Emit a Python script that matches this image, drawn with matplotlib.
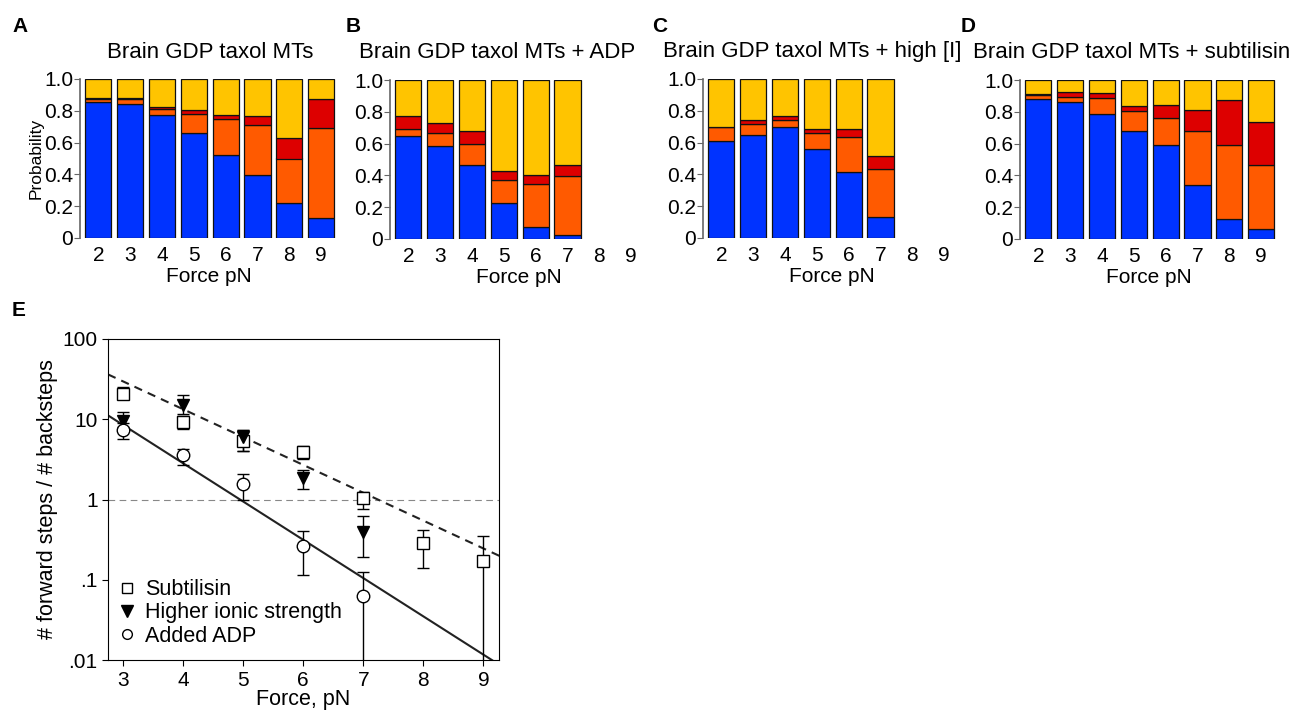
import numpy as np
import matplotlib.pyplot as plt
import matplotlib
from matplotlib.lines import Line2D

matplotlib.rcParams['font.family'] = ['Liberation Sans', 'DejaVu Sans']
matplotlib.rcParams['font.size'] = 13

# ---- data for panels A-D (probability of each step type, bottom to top) ----
forces_full = [2, 3, 4, 5, 6, 7, 8, 9]
forces_short = [2, 3, 4, 5, 6, 7]

a_blue = [0.853, 0.840, 0.771, 0.658, 0.519, 0.399, 0.221, 0.126]
a_orange = [0.021, 0.032, 0.042, 0.119, 0.227, 0.309, 0.279, 0.563]
a_red = [0.004, 0.008, 0.008, 0.026, 0.029, 0.059, 0.126, 0.187]
a_yellow = [0.122, 0.120, 0.179, 0.197, 0.225, 0.233, 0.374, 0.124]

b_blue = [0.648, 0.587, 0.467, 0.226, 0.073, 0.025]
b_orange = [0.046, 0.079, 0.128, 0.143, 0.273, 0.369]
b_red = [0.077, 0.062, 0.084, 0.057, 0.057, 0.073]
b_yellow = [0.229, 0.272, 0.321, 0.574, 0.597, 0.533]

c_blue = [0.608, 0.648, 0.696, 0.562, 0.413, 0.130]
c_orange = [0.088, 0.069, 0.046, 0.096, 0.222, 0.304]
c_red = [0.003, 0.025, 0.023, 0.028, 0.051, 0.082]
c_yellow = [0.301, 0.258, 0.235, 0.314, 0.314, 0.484]

d_blue = [0.880, 0.859, 0.789, 0.682, 0.589, 0.341, 0.124, 0.063]
d_orange = [0.023, 0.036, 0.097, 0.120, 0.175, 0.341, 0.465, 0.404]
d_red = [0.012, 0.031, 0.034, 0.034, 0.080, 0.129, 0.285, 0.268]
d_yellow = [0.085, 0.074, 0.080, 0.164, 0.156, 0.189, 0.126, 0.265]

# ---- data for panel E (ratio forward / back steps) ----
sub_force = [3, 4, 5, 6, 7, 8, 9]
sub_ratio = [20.8, 9.2, 5.3, 3.9, 1.03, 0.285, 0.17]
sub_low = [17.7, 7.5, 4.0, 3.16, 0.77, 0.14, 0.005]
sub_high = [25.4, 11.0, 7.3, 4.6, 1.23, 0.42, 0.35]

ion_force = [3, 4, 5, 6, 7]
ion_ratio = [9.5, 14.9, 6.0, 1.86, 0.395]
ion_low = [7.9, 11.5, 4.0, 1.37, 0.19]
ion_high = [12.3, 20.0, 7.3, 2.3, 0.62]

adp_force = [3, 4, 5, 6, 7]
adp_ratio = [7.3, 3.57, 1.54, 0.26, 0.062]
adp_low = [5.7, 2.7, 1.0, 0.113, 0.005]
adp_high = [9.0, 4.3, 2.05, 0.41, 0.124]

# fit lines: log10(ratio) = intercept - slope * force
fit_dashed = (2.513, 0.347)
fit_solid = (2.36, 0.477)

col_blue = '#0033ff'
col_orange = '#ff5a00'
col_red = '#dd0000'
col_yellow = '#ffc400'

W, H = 1292, 714
fig = plt.figure(figsize=(W / 100, H / 100), dpi=100)


def px_axes(left, top, right, bottom):
    return fig.add_axes([left / W, 1 - bottom / H, (right - left) / W, (bottom - top) / H])


def bar_panel(ax, forces, blue, orange, red, yellow, ylabel=False):
    bottom = np.zeros(len(forces))
    for vals, c in [(blue, col_blue), (orange, col_orange), (red, col_red), (yellow, col_yellow)]:
        ax.bar(forces, vals, bottom=bottom, width=0.82, color=c, edgecolor='#111111', linewidth=0.9)
        bottom = bottom + np.array(vals)
    ax.set_xlim(1.42, 9.5)
    ax.set_ylim(0, 1.0)
    ax.set_xticks(forces_full)
    ax.set_yticks([0, 0.2, 0.4, 0.6, 0.8, 1.0])
    ax.set_yticklabels(['0', '0.2', '0.4', '0.6', '0.8', '1.0'], fontsize=15)
    ax.tick_params(axis='x', length=0, labelsize=15, pad=6)
    ax.tick_params(axis='y', length=4, color='#666666', pad=1)
    for s in ['top', 'right', 'bottom']:
        ax.spines[s].set_visible(False)
    ax.spines['left'].set_color('#666666')
    ax.spines['left'].set_linewidth(1.2)
    ax.set_xlabel('Force pN', fontsize=15, labelpad=1)
    if ylabel:
        ax.set_ylabel('Probability', fontsize=12.5, labelpad=0)


axA = px_axes(80, 79, 337, 238)
bar_panel(axA, forces_full, a_blue, a_orange, a_red, a_yellow, ylabel=True)
axB = px_axes(390, 80, 647, 239)
bar_panel(axB, forces_short, b_blue, b_orange, b_red, b_yellow)
axC = px_axes(703, 79, 960, 238)
bar_panel(axC, forces_short, c_blue, c_orange, c_red, c_yellow)
axD = px_axes(1020, 80, 1277, 239)
bar_panel(axD, forces_full, d_blue, d_orange, d_red, d_yellow)

# titles and panel letters
titles = ['Brain GDP taxol MTs', 'Brain GDP taxol MTs + ADP',
          'Brain GDP taxol MTs + high [I]', 'Brain GDP taxol MTs + subtilisin']
title_x = [210, 497, 812, 1132]
for t, x in zip(titles, title_x):
    fig.text(x / W, 1 - 52 / H, t, ha='center', va='center', fontsize=16)
for lab, x, y in [('A', 12, 27), ('B', 346, 27), ('C', 652, 27), ('D', 961, 27), ('E', 12, 311)]:
    fig.text(x / W, 1 - y / H, lab, ha='left', va='center', fontsize=15, fontweight='bold')

# ---- panel E ----
axE = px_axes(108, 339, 499, 660)
axE.set_yscale('log')
axE.axhline(1, color='#888888', linewidth=0.8, dashes=(6, 4))

ff = np.linspace(2.75, 9.3, 50)
axE.plot(ff, 10 ** (fit_dashed[0] - fit_dashed[1] * ff), color='#222222', linewidth=1.5, dashes=(4, 3))
axE.plot(ff, 10 ** (fit_solid[0] - fit_solid[1] * ff), color='#222222', linewidth=1.5)


def err_series(x, y, lo, hi, marker, filled):
    y = np.array(y)
    yerr = [y - np.array(lo), np.array(hi) - y]
    axE.errorbar(x, y, yerr=yerr, fmt=marker, markersize=9, mfc='black' if filled else 'white',
                 mec='black', mew=1.0, ecolor='black', elinewidth=1.0, capsize=4, capthick=1.0, zorder=3)


err_series(sub_force, sub_ratio, sub_low, sub_high, 's', False)
err_series(ion_force, ion_ratio, ion_low, ion_high, 'v', True)
err_series(adp_force, adp_ratio, adp_low, adp_high, 'o', False)

axE.set_xlim(2.75, 9.26)
axE.set_ylim(0.01, 100)
axE.set_xticks([3, 4, 5, 6, 7, 8, 9])
axE.set_yticks([0.01, 0.1, 1, 10, 100])
axE.set_yticklabels(['.01', '.1', '1', '10', '100'])
axE.minorticks_off()
axE.tick_params(labelsize=15, length=4)
axE.tick_params(axis='x', pad=4)
axE.set_xlabel('Force, pN', fontsize=15.5, labelpad=-1)
axE.set_ylabel('# forward steps / # backsteps', fontsize=15.5, labelpad=3)

handles = [Line2D([], [], linestyle='none', marker='s', markersize=7, mfc='white', mec='black'),
           Line2D([], [], linestyle='none', marker='v', markersize=8, mfc='black', mec='black'),
           Line2D([], [], linestyle='none', marker='o', markersize=7, mfc='white', mec='black')]
axE.legend(handles, ['Subtilisin', 'Higher ionic strength', 'Added ADP'], loc='lower left',
           frameon=False, fontsize=15.5, handletextpad=0.35, labelspacing=0.1,
           handlelength=1.0, borderpad=0, borderaxespad=0, bbox_to_anchor=(0.021, 0.042))

plt.savefig('out.png', dpi=100)
